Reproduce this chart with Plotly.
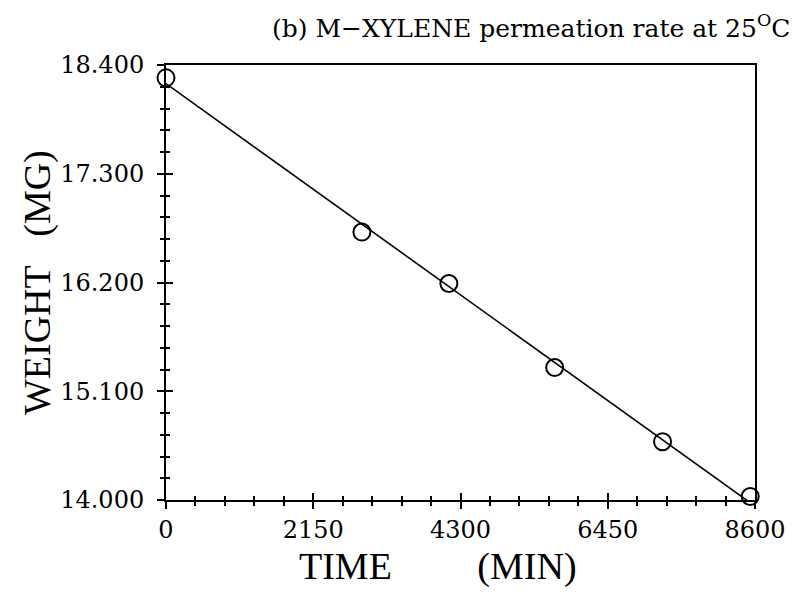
import numpy as np
import plotly.graph_objects as go

# Measured sample weight over time
time_min = [0, 2860, 4130, 5675, 7250, 8530]
weight_mg = [18.27, 16.71, 16.19, 15.34, 14.59, 14.035]

# Axis ticks
x_ticks = [0, 2150, 4300, 6450, 8600]
x_tick_text = ["0", "2150", "4300", "6450", "8600"]
y_ticks = [14.0, 15.1, 16.2, 17.3, 18.4]
y_tick_text = ["14.000", "15.100", "16.200", "17.300", "18.400"]
x_range = [0, 8600]
y_range = [14.0, 18.4]

# Least-squares permeation line through the measurements
slope, intercept = np.polyfit(time_min, weight_mg, 1)
fit_x = [min(time_min), max(time_min)]
fit_y = [intercept + slope * t for t in fit_x]

TICK_FONT = dict(family="DejaVu Serif", size=24, color="black")
LABEL_FONT = dict(family="Liberation Serif", size=38, color="black")

fig = go.Figure()
fig.add_trace(go.Scatter(x=fit_x, y=fit_y, mode="lines",
                         line=dict(color="black", width=1.6),
                         showlegend=False, hoverinfo="skip"))
fig.add_trace(go.Scatter(x=time_min, y=weight_mg, mode="markers",
                         marker=dict(symbol="circle-open", size=17, color="black",
                                     line=dict(color="black", width=2)),
                         showlegend=False, cliponaxis=False))
# invisible trace so the inner-tick overlay axes get drawn
fig.add_trace(go.Scatter(x=time_min, y=weight_mg, mode="markers",
                         marker=dict(opacity=0), xaxis="x2", yaxis="y2",
                         showlegend=False, hoverinfo="skip"))

common = dict(showgrid=False, zeroline=False)

fig.update_layout(
    width=798, height=593,
    margin=dict(l=166, r=36, t=65, b=93),
    plot_bgcolor="white", paper_bgcolor="white",
    xaxis=dict(range=x_range, tickmode="array", tickvals=x_ticks, ticktext=x_tick_text,
               ticks="outside", ticklen=7, tickwidth=2, tickcolor="black",
               minor=dict(ticks="outside", dtick=430, tick0=0, ticklen=4,
                          tickwidth=1.5, tickcolor="black"),
               showline=True, linecolor="black", linewidth=2, mirror=True,
               tickfont=TICK_FONT, ticklabelstandoff=0, **common),
    yaxis=dict(range=y_range, tickmode="array", tickvals=y_ticks, ticktext=y_tick_text,
               ticks="outside", ticklen=7, tickwidth=2, tickcolor="black",
               minor=dict(ticks="outside", dtick=0.22, tick0=14.0, ticklen=4,
                          tickwidth=1.5, tickcolor="black"),
               showline=True, linecolor="black", linewidth=2, mirror=True,
               tickfont=TICK_FONT, ticklabelstandoff=8, **common),
    xaxis2=dict(range=x_range, overlaying="x", anchor="y2", tickmode="array",
                tickvals=x_ticks, showticklabels=False,
                ticks="inside", ticklen=7, tickwidth=2, tickcolor="black",
                minor=dict(ticks="inside", dtick=430, tick0=0, ticklen=4,
                           tickwidth=1.5, tickcolor="black"),
                showline=False, **common),
    yaxis2=dict(range=y_range, overlaying="y", anchor="x2", tickmode="array",
                tickvals=y_ticks, showticklabels=False,
                ticks="inside", ticklen=7, tickwidth=2, tickcolor="black",
                minor=dict(ticks="inside", dtick=0.22, tick0=14.0, ticklen=4,
                           tickwidth=1.5, tickcolor="black"),
                showline=False, **common),
    annotations=[
        dict(text="(b) M\u2212XYLENE permeation rate at 25<sup>O</sup>C",
             xref="paper", yref="paper", x=1.062, y=1.088,
             xanchor="right", yanchor="middle", showarrow=False,
             font=dict(family="DejaVu Serif", size=25, color="black")),
        dict(text="TIME" + "\u00a0" * 9 + "(MIN)",
             xref="paper", yref="paper", x=0.462, y=-0.152,
             xanchor="center", yanchor="middle", showarrow=False,
             font=LABEL_FONT),
        dict(text="WEIGHT" + "\u00a0" * 3 + "(MG)",
             xref="paper", yref="paper", x=-0.218, y=0.5, textangle=-90,
             xanchor="center", yanchor="middle", showarrow=False,
             font=LABEL_FONT),
    ],
)

fig.write_html("out.html")
